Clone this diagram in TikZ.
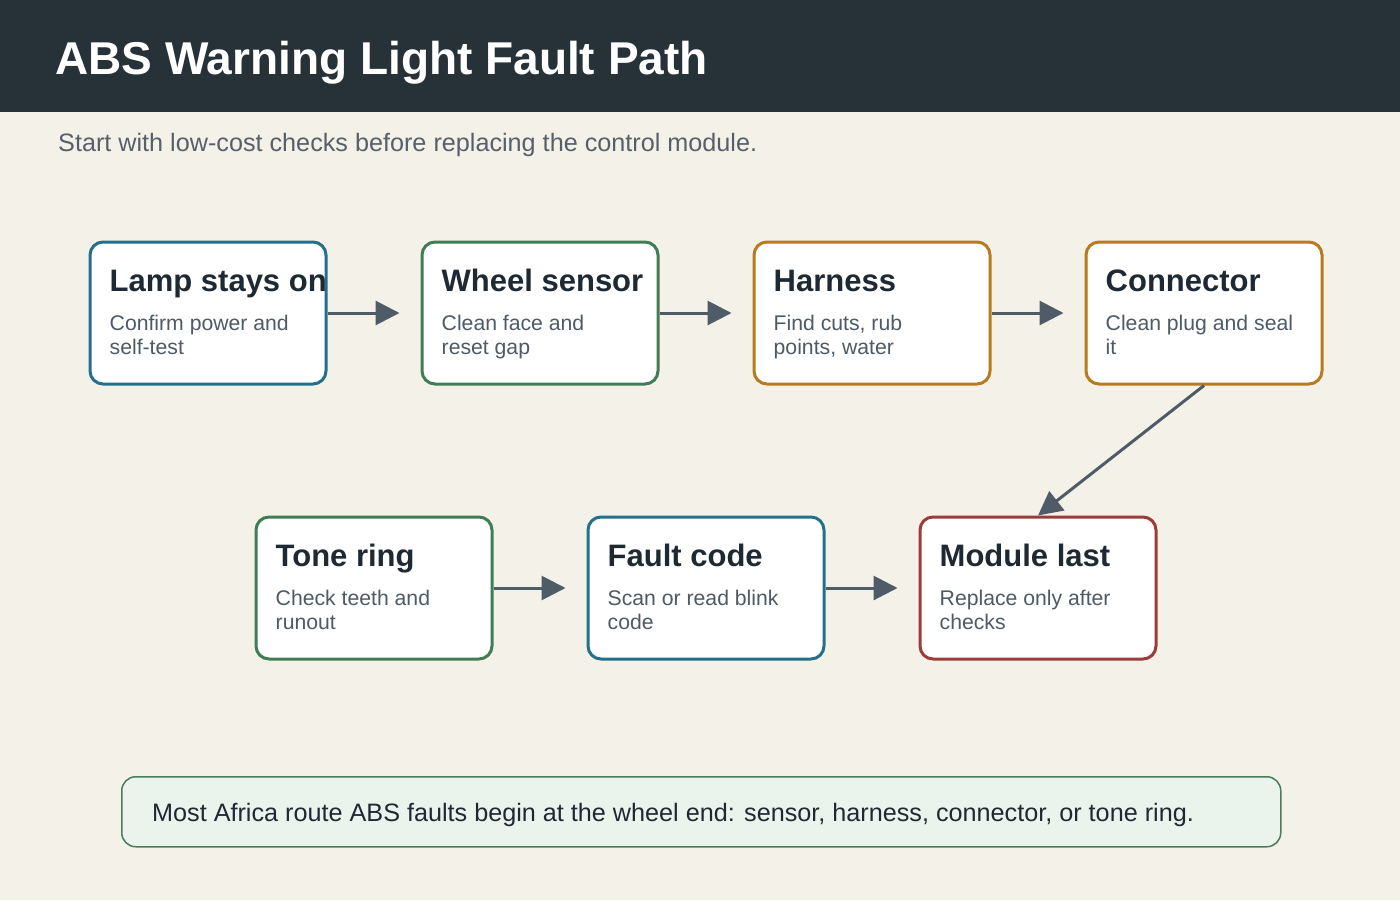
\documentclass[tikz,border=0pt]{standalone}
\usepackage{fontspec}
\setmainfont{Liberation Sans}
\usetikzlibrary{arrows.meta,calc}
\definecolor{bg}{HTML}{F4F1E9}
\definecolor{barc}{HTML}{263238}
\definecolor{subc}{HTML}{56606B}
\definecolor{ttc}{HTML}{1F2933}
\definecolor{bodyc}{HTML}{4E5A65}
\definecolor{arrc}{HTML}{4F5B66}
\definecolor{cblue}{HTML}{23708A}
\definecolor{cgreen}{HTML}{3F7D55}
\definecolor{corange}{HTML}{B87A1E}
\definecolor{cred}{HTML}{9C3B3B}
\definecolor{notefill}{HTML}{EAF3EC}
\definecolor{noteline}{HTML}{4A7C59}
\tikzset{
  stepbox/.style={draw=#1, line width=3pt, fill=white, rounded corners=13pt,
    minimum width=236pt, minimum height=142pt, inner sep=0pt},
  boxtitle/.style={anchor=base west, inner sep=0pt, text=ttc,
    font=\fontsize{31}{36}\selectfont\bfseries},
  boxbody/.style={anchor=base west, inner sep=0pt, text=bodyc, align=left,
    font=\fontsize{21.2}{24.5}\selectfont},
  arr/.style={draw=arrc, line width=3pt, -{Triangle[length=24pt,width=24pt]}},
}
\begin{document}
\begin{tikzpicture}[x=1pt,y=-1pt]
\useasboundingbox (0,0) rectangle (1400,900);
\fill[bg] (0,0) rectangle (1400,900);
\fill[barc] (0,0) rectangle (1400,112);
\node[anchor=base west, inner sep=0pt, text=white, font=\fontsize{46}{50}\selectfont\bfseries] (title) at (55,74) {ABS Warning Light Fault Path};
\node[anchor=base west, inner sep=0pt, text=subc, font=\fontsize{25.2}{29}\selectfont] (sub) at (58,151) {Start with low-cost checks before replacing the control module.};
% boxes
\node[stepbox=cblue] (b1) at (208,313) {};
\node[stepbox=cgreen] (b2) at (540,313) {};
\node[stepbox=corange] (b3) at (872,313) {};
\node[stepbox=corange] (b4) at (1204,313) {};
\node[stepbox=cgreen] (b5) at (374,588) {};
\node[stepbox=cblue] (b6) at (706,588) {};
\node[stepbox=cred] (b7) at (1038,588) {};
% texts
\foreach \b/\t/\l/\m in {b1/Lamp stays on/Confirm power and/self-test,
  b2/Wheel sensor/Clean face and/reset gap,
  b3/Harness/{Find cuts, rub}/{points, water},
  b4/Connector/Clean plug and seal/it,
  b5/Tone ring/Check teeth and/runout,
  b6/Fault code/Scan or read blink/code,
  b7/Module last/Replace only after/checks}{
  \node[boxtitle] (\b t) at ($(\b.north west)+(21,51)$) {\t};
  \node[boxbody] (\b d) at ($(\b.north west)+(21,114)$) {\l\\\m};
}
% arrows
\draw[arr, shorten >=21pt] (b1.east) -- (b2.west);
\draw[arr, shorten >=21pt] (b2.east) -- (b3.west);
\draw[arr, shorten >=21pt] (b3.east) -- (b4.west);
\draw[arr] (b4.south) -- (b7.north);
\draw[arr, shorten >=21pt] (b5.east) -- (b6.west);
\draw[arr, shorten >=21pt] (b6.east) -- (b7.west);
% note
\node[draw=noteline, line width=1.5pt, fill=notefill, rounded corners=14pt,
  minimum width=1159pt, minimum height=70pt, anchor=north west, inner sep=0pt] (note) at (121,776) {};
\node[anchor=base west, inner sep=0pt, text=ttc, font=\fontsize{25.2}{29}\selectfont] (notet) at (152,821) {Most Africa route ABS faults begin at the wheel end: sensor, harness, connector, or tone ring.};
\end{tikzpicture}
\end{document}
